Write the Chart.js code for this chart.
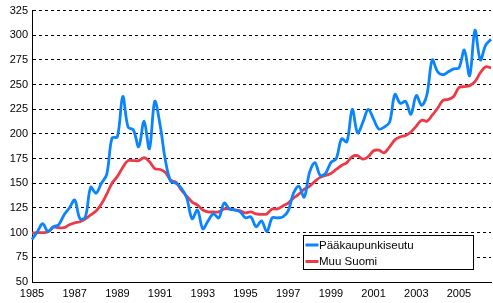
<!DOCTYPE html>
<html>
<head>
<meta charset="utf-8">
<script src="https://cdn.jsdelivr.net/npm/chart.js@4"></script>
<style>
  html, body { margin: 0; padding: 0; background: #fff; }
  #wrap { width: 493px; height: 303px; }
</style>
</head>
<body>
<div id="wrap"><canvas id="chart" width="493" height="303"></canvas></div>
<script>
// Quarterly index values, 1985 Q1 ... 2006 Q3
const firstYear = 1985;
const quarterCount = 87;

const capitalRegion = [
  93, 101, 109, 101,      // 1985
  106, 108, 118, 125,     // 1986
  133, 114, 116, 146,     // 1987
  140, 150, 159, 196,     // 1988
  197, 238, 207, 204,     // 1989
  187, 213, 185, 233,     // 1990
  209, 173, 152, 150,     // 1991
  145, 135, 114, 123,     // 1992
  104, 112, 119, 115,     // 1993
  130, 124, 123, 121,     // 1994
  115, 116, 106, 112,     // 1995
  101, 115, 115, 116,     // 1996
  122, 140, 147, 136,     // 1997
  161, 171, 158, 160,     // 1998
  171, 175, 195, 192,     // 1999
  225, 201, 212, 225,     // 2000
  215, 205, 207, 212,     // 2001
  240, 231, 233, 220,     // 2002
  239, 229, 240, 275,     // 2003
  263, 260, 263, 266,     // 2004
  267, 285, 259, 305,     // 2005
  275, 290, 296           // 2006
];

const restOfFinland = [
  99.5, 100, 100, 101,    // 1985
  105.5, 105, 105, 108,   // 1986
  110, 111, 114, 118,     // 1987
  122, 129, 139, 150,     // 1988
  157, 166, 173, 173,     // 1989
  173, 176, 172, 165,     // 1990
  164, 161, 153, 151,     // 1991
  143, 137, 131, 128,     // 1992
  123, 121, 121, 121,     // 1993
  124, 124, 123, 122,     // 1994
  120, 121, 119, 118.5,   // 1995
  119, 124, 124, 127,     // 1996
  130, 135, 139, 144,     // 1997
  147, 152, 156, 158,     // 1998
  160, 164, 168, 171,     // 1999
  177, 178, 174.5, 177,   // 2000
  183, 183.5, 181, 187,   // 2001
  194, 197, 198.5, 202,   // 2002
  208, 214, 213, 219,     // 2003
  226, 234, 235, 238,     // 2004
  247, 248, 249, 253,     // 2005
  262, 268, 267           // 2006
];

const seriesNames = ['Pääkaupunkiseutu', 'Muu Suomi'];
const seriesColors = ['#0a84ff', '#ec3b46'];
const yTicks = [50, 75, 100, 125, 150, 175, 200, 225, 250, 275, 300, 325];

const quarters = [];
for (let i = 0; i < quarterCount; i++) {
  quarters.push((firstYear + Math.floor(i / 4)) + 'Q' + (i % 4 + 1));
}

const FONT = 'Liberation Sans, Arial, sans-serif';

// legend box drawn inside the plot, like the original
const boxLegend = {
  id: 'boxLegend',
  afterDraw(chart) {
    const ctx = chart.ctx;
    const x = 303.5, y = 235.5, w = 170, h = 34;
    ctx.save();
    ctx.fillStyle = '#fff';
    ctx.fillRect(x, y, w, h);
    ctx.strokeStyle = '#000';
    ctx.lineWidth = 1;
    ctx.strokeRect(x, y, w, h);
    ctx.font = '11.5px ' + FONT;
    ctx.textBaseline = 'middle';
    seriesNames.forEach((name, i) => {
      const ly = y + 9.5 + i * 16.5;
      ctx.strokeStyle = seriesColors[i];
      ctx.lineWidth = 3;
      ctx.beginPath();
      ctx.moveTo(x + 2, ly);
      ctx.lineTo(x + 15, ly);
      ctx.stroke();
      ctx.fillStyle = '#000';
      ctx.fillText(name, x + 15.5, ly + 0.5);
    });
    ctx.restore();
  }
};

new Chart(document.getElementById('chart'), {
  type: 'line',
  data: {
    labels: quarters,
    datasets: [
      {
        label: seriesNames[0],
        data: capitalRegion,
        borderColor: seriesColors[0],
        borderWidth: 2.8,
        pointRadius: 0,
        tension: 0.35,
        fill: false
      },
      {
        label: seriesNames[1],
        data: restOfFinland,
        borderColor: seriesColors[1],
        borderWidth: 2.8,
        pointRadius: 0,
        tension: 0.35,
        fill: false
      }
    ]
  },
  options: {
    responsive: false,
    animation: false,
    layout: { padding: { top: 8, right: 2, left: 0, bottom: 0 } },
    plugins: {
      legend: { display: false },
      tooltip: { enabled: false }
    },
    scales: {
      x: {
        type: 'category',
        offset: false,
        afterFit: s => { s.height = 21; },
        grid: { display: false, drawTicks: false },
        border: { display: true, color: '#000', width: 1 },
        ticks: {
          autoSkip: false,
          maxRotation: 0,
          padding: 5,
          color: '#000',
          font: { family: FONT, size: 11 },
          callback: function (value, index) {
            const label = quarters[index];
            const yr = parseInt(label, 10);
            return (label.endsWith('Q1') && (yr - firstYear) % 2 === 0) ? String(yr) : null;
          }
        }
      },
      y: {
        min: yTicks[0],
        max: yTicks[yTicks.length - 1],
        afterFit: s => { s.width = 32; },
        afterBuildTicks: s => { s.ticks = yTicks.map(v => ({ value: v })); },
        grid: {
          drawTicks: false,
          color: c => (c.tick && c.tick.value === yTicks[0]) ? 'rgba(0,0,0,0)' : '#000',
          lineWidth: 1
        },
        border: { display: true, color: '#000', width: 1, dash: [3, 3] },
        ticks: {
          padding: 4,
          color: '#000',
          font: { family: FONT, size: 11 }
        }
      }
    }
  },
  plugins: [boxLegend]
});
</script>
</body>
</html>
